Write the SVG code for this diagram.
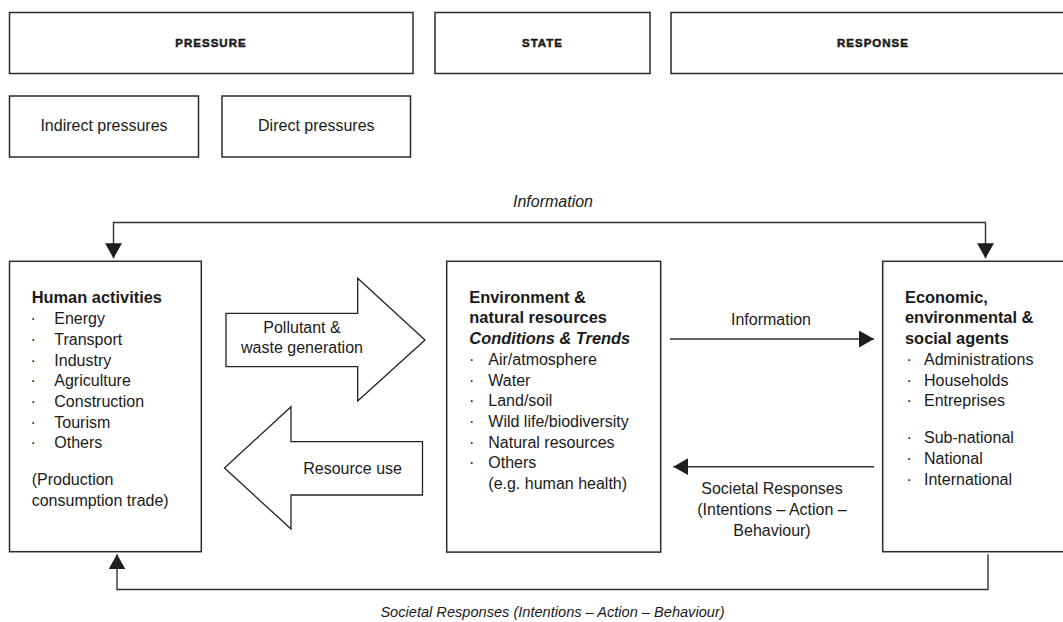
<svg xmlns="http://www.w3.org/2000/svg" width="1063" height="622" viewBox="0 0 1063 622">
<style>
  text { font-family: "Liberation Sans", Arial, sans-serif; fill: #1a1a1a; }
  .box { fill: #fff; stroke: #2a2a2a; stroke-width: 1.5; }
  .cap { font-size: 11.5px; font-weight: 900; letter-spacing: 1px; text-anchor: middle; stroke: #1a1a1a; stroke-width: 0.5; }
  .t { font-size: 16px; }
  .h { font-size: 16.4px; font-weight: bold; }
  .hi { font-size: 16.4px; font-weight: bold; font-style: italic; }
  .c { text-anchor: middle; }
  .it { font-style: italic; }
  .line { fill: none; stroke: #333; stroke-width: 1.4; }
  .big { fill: #fff; stroke: #222; stroke-width: 1.3; stroke-linejoin: miter; }
</style>
<defs>
  <marker id="ah" viewBox="0 0 15 17" refX="15" refY="8.5" markerWidth="15" markerHeight="17" markerUnits="userSpaceOnUse" orient="auto-start-reverse">
    <path d="M0,0 L15,8.5 L0,17 Z" fill="#1e1e1e"/>
  </marker>
</defs>
<rect width="1063" height="622" fill="#fff"/>

<g id="pressure">
  <rect class="box" x="9.5" y="12.5" width="403.5" height="61"/>
  <text class="cap" x="211" y="46.7">PRESSURE</text>
</g>
<g id="state">
  <rect class="box" x="435" y="12.5" width="215" height="61"/>
  <text class="cap" x="542.5" y="46.7">STATE</text>
</g>
<g id="response">
  <rect class="box" x="671" y="12.5" width="404" height="61"/>
  <text class="cap" x="873" y="46.7">RESPONSE</text>
</g>
<g id="indirect">
  <rect class="box" x="9.5" y="96" width="189" height="61"/>
  <text class="t c" x="104" y="131">Indirect pressures</text>
</g>
<g id="direct">
  <rect class="box" x="222" y="96" width="188.5" height="61"/>
  <text class="t c" x="316.3" y="131">Direct pressures</text>
</g>

<g id="connectors">
  <path class="line" d="M113.5,258.3 V222.5 H985.5 V258.3" marker-start="url(#ah)" marker-end="url(#ah)"/>
  <text class="t it c" x="553" y="206.7">Information</text>
  <path class="line" d="M670,339 H874" marker-end="url(#ah)"/>
  <text class="t c" x="771" y="325">Information</text>
  <path class="line" d="M874,466.7 H673.3" marker-end="url(#ah)"/>
  <text class="t c" x="772" y="494.3">Societal Responses</text>
  <text class="t c" x="772" y="514.8">(Intentions – Action –</text>
  <text class="t c" x="772" y="535.5">Behaviour)</text>
  <path class="line" d="M988,554.3 V589.5 H117 V554.3" marker-end="url(#ah)"/>
  <text class="it c" style="font-size:14.6px" x="552.5" y="617">Societal Responses (Intentions – Action – Behaviour)</text>
</g>

<g id="pollutant-arrow">
  <path class="big" d="M226,313.3 H357.7 V278.3 L425,340 L357.7,401 V366.7 H226 Z"/>
  <text class="t c" x="302" y="332.7">Pollutant &amp;</text>
  <text class="t c" x="302" y="353.3">waste generation</text>
</g>
<g id="resource-arrow">
  <path class="big" d="M422.5,441.7 H291 V406.7 L224.5,468 L291,529 V495 H422.5 Z"/>
  <text class="t c" x="352.6" y="473.5">Resource use</text>
</g>

<g id="human-activities">
  <rect class="box" x="9.5" y="261.3" width="191.8" height="290.4"/>
  <text class="h" x="31.7" y="302.7">Human activities</text>
  <text class="t" x="30.5" y="324.3">·</text><text class="t" x="54.3" y="324.3">Energy</text>
  <text class="t" x="30.5" y="345">·</text><text class="t" x="54.3" y="345">Transport</text>
  <text class="t" x="30.5" y="365.7">·</text><text class="t" x="54.3" y="365.7">Industry</text>
  <text class="t" x="30.5" y="386.3">·</text><text class="t" x="54.3" y="386.3">Agriculture</text>
  <text class="t" x="30.5" y="407">·</text><text class="t" x="54.3" y="407">Construction</text>
  <text class="t" x="30.5" y="427.7">·</text><text class="t" x="54.3" y="427.7">Tourism</text>
  <text class="t" x="30.5" y="448.3">·</text><text class="t" x="54.3" y="448.3">Others</text>
  <text class="t" x="31.7" y="484.5">(Production</text>
  <text class="t" x="31.7" y="505.5">consumption trade)</text>
</g>

<g id="environment">
  <rect class="box" x="446.7" y="261.3" width="214" height="290.8"/>
  <text class="h" x="469.3" y="302.7">Environment &amp;</text>
  <text class="h" x="469.3" y="323.3">natural resources</text>
  <text class="hi" x="469.3" y="344">Conditions &amp; Trends</text>
  <text class="t" x="469" y="365">·</text><text class="t" x="488.3" y="365">Air/atmosphere</text>
  <text class="t" x="469" y="385.7">·</text><text class="t" x="488.3" y="385.7">Water</text>
  <text class="t" x="469" y="406.4">·</text><text class="t" x="488.3" y="406.4">Land/soil</text>
  <text class="t" x="469" y="427.1">·</text><text class="t" x="488.3" y="427.1">Wild life/biodiversity</text>
  <text class="t" x="469" y="447.8">·</text><text class="t" x="488.3" y="447.8">Natural resources</text>
  <text class="t" x="469" y="468.4">·</text><text class="t" x="488.3" y="468.4">Others</text>
  <text class="t" x="488.3" y="489">(e.g. human health)</text>
</g>

<g id="agents">
  <rect class="box" x="882.7" y="261.3" width="192" height="290.4"/>
  <text class="h" x="905" y="302.7">Economic,</text>
  <text class="h" x="905" y="323.3">environmental &amp;</text>
  <text class="h" x="905" y="344">social agents</text>
  <text class="t" x="906.5" y="365">·</text><text class="t" x="924" y="365">Administrations</text>
  <text class="t" x="906.5" y="385.7">·</text><text class="t" x="924" y="385.7">Households</text>
  <text class="t" x="906.5" y="406.4">·</text><text class="t" x="924" y="406.4">Entreprises</text>
  <text class="t" x="906.5" y="443.3">·</text><text class="t" x="924" y="443.3">Sub-national</text>
  <text class="t" x="906.5" y="464">·</text><text class="t" x="924" y="464">National</text>
  <text class="t" x="906.5" y="484.6">·</text><text class="t" x="924" y="484.6">International</text>
</g>
</svg>
